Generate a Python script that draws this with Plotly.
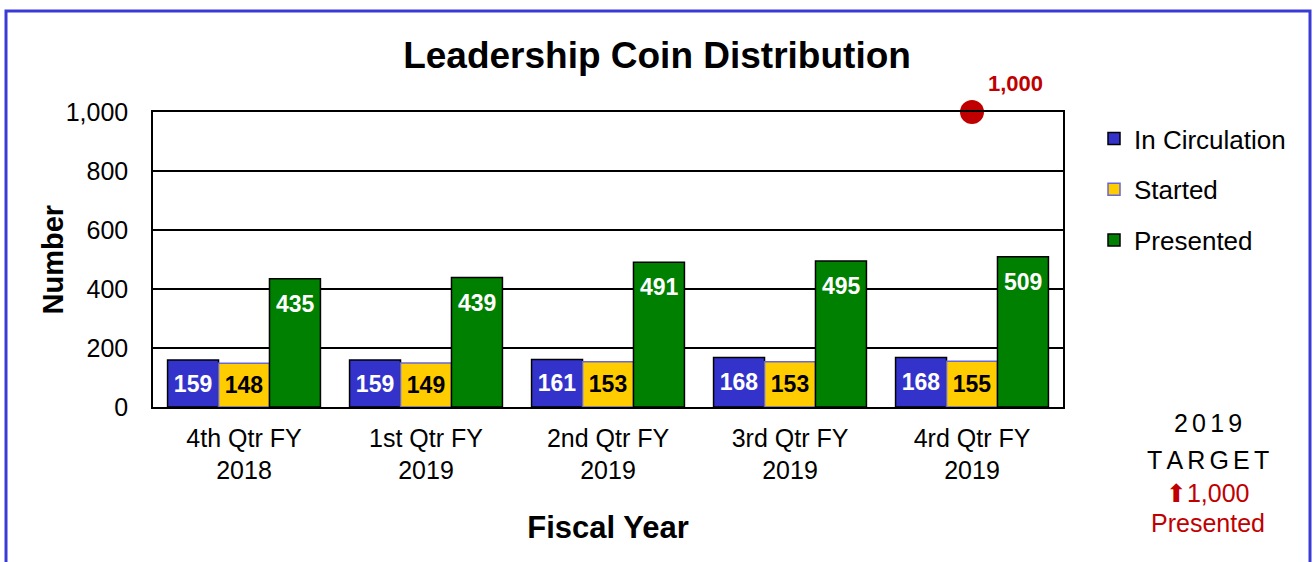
import plotly.graph_objects as go

categories = ["4th Qtr FY<br>2018", "1st Qtr FY<br>2019", "2nd Qtr FY<br>2019",
              "3rd Qtr FY<br>2019", "4rd Qtr FY<br>2019"]
in_circulation = [159, 159, 161, 168, 168]
started = [148, 149, 153, 153, 155]
presented = [435, 439, 491, 495, 509]
target_category = categories[4]
target_value = 1000

FONT = "Liberation Sans, Arial, sans-serif"

# plot area geometry (pixels)
L, R, T, B = 153, 1063, 112, 407
W, H = R - L, B - T
BAR_PX = 51  # width of one bar within a group

fig = go.Figure()

fig.add_trace(go.Bar(
    x=categories, y=in_circulation, name="In Circulation", legendgroup="a",
    marker=dict(color="#3333cc", line=dict(color="#000000", width=1.5)),
    text=in_circulation, textposition="inside", insidetextanchor="middle",
    textfont=dict(family=FONT, size=23, color="white", weight="bold"),
    textangle=0,
))
fig.add_trace(go.Bar(
    x=categories, y=started, name="Started", legendgroup="b",
    marker=dict(color="#ffcc00", line=dict(color="#6666dd", width=1.5)),
    text=started, textposition="inside", insidetextanchor="middle",
    textfont=dict(family=FONT, size=23, color="black", weight="bold"),
    textangle=0,
))
fig.add_trace(go.Bar(
    x=categories, y=presented, name="Presented", legendgroup="c",
    marker=dict(color="#008000", line=dict(color="#000000", width=1.5)),
    textposition="none",
))
fig.add_trace(go.Scatter(
    x=[target_category], y=[target_value], mode="markers+text",
    marker=dict(color="#c00000", size=24),
    text=[f"{target_value:,}"], textposition="top right",
    textfont=dict(family=FONT, size=22, color="#c00000", weight="bold"),
    showlegend=False, cliponaxis=False,
))

# value labels near the top of the Presented bars
for cat, val in zip(categories, presented):
    fig.add_annotation(x=cat, y=val, xref="x", yref="y", text=f"<b>{val}</b>",
                       showarrow=False, xanchor="center", yanchor="middle",
                       xshift=BAR_PX, yshift=-25,
                       font=dict(family=FONT, size=23, color="white"))

fig.update_layout(
    width=1314, height=562,
    margin=dict(l=L, r=1314 - R, t=T, b=562 - B),
    paper_bgcolor="white", plot_bgcolor="white",
    barmode="group", bargap=0.16, bargroupgap=0,
    font=dict(family=FONT, size=25, color="black"),
    title=dict(text="<b>Leadership Coin Distribution</b>", x=0.5, xref="container",
               xanchor="center", y=1 - 55 / 562, yanchor="middle",
               font=dict(family=FONT, size=37, color="black")),
    legend=dict(x=(1094 - L) / W, y=(B - 115) / H, xanchor="left", yanchor="top",
                font=dict(family=FONT, size=26, color="black"),
                traceorder="grouped", tracegroupgap=14, itemwidth=30,
                bgcolor="rgba(0,0,0,0)"),
    showlegend=True,
)

fig.update_yaxes(
    range=[0, 1000], dtick=200, tickformat=",", showgrid=True,
    gridcolor="black", gridwidth=1.5, showline=True, linecolor="black",
    linewidth=1.5, mirror=True, zeroline=False, ticks="",
    ticklabelstandoff=18, tickfont=dict(size=25),
)
fig.update_xaxes(
    showline=True, linecolor="black", linewidth=1.5, mirror=True,
    ticks="", tickfont=dict(size=25), ticklabelstandoff=8,
    title=dict(text="<b>Fiscal Year</b>", font=dict(size=31), standoff=33),
)

# y-axis title
fig.add_annotation(x=(52 - L) / W, y=0.5, xref="paper", yref="paper",
                   text="<b>Number</b>", textangle=-90, showarrow=False,
                   xanchor="center", yanchor="middle",
                   font=dict(family=FONT, size=29, color="black"))

# Outer frame around the whole chart
fig.add_shape(type="rect", xref="paper", yref="paper",
              x0=(6 - L) / W, x1=(1310 - L) / W,
              y0=(B - 575) / H, y1=(B - 11) / H,
              line=dict(color="#3a3ad6", width=3), fillcolor="rgba(0,0,0,0)",
              layer="below")

# 2019 target note
SP = "\u2006"
note_x = (1208 - L) / W
note_lines = [
    (SP.join("2019"), "black", 423),
    (SP.join("TARGET"), "black", 460),
    ("<span style='font-family:DejaVu Sans'>⬆</span>1,000", "#c00000", 493),
    ("Presented", "#c00000", 523),
]
for txt, col, py in note_lines:
    fig.add_annotation(x=note_x, y=(B - py) / H, xref="paper", yref="paper",
                       text=txt, showarrow=False, xanchor="center", yanchor="middle",
                       font=dict(family=FONT, size=25, color=col))

fig.write_html("out.html")
